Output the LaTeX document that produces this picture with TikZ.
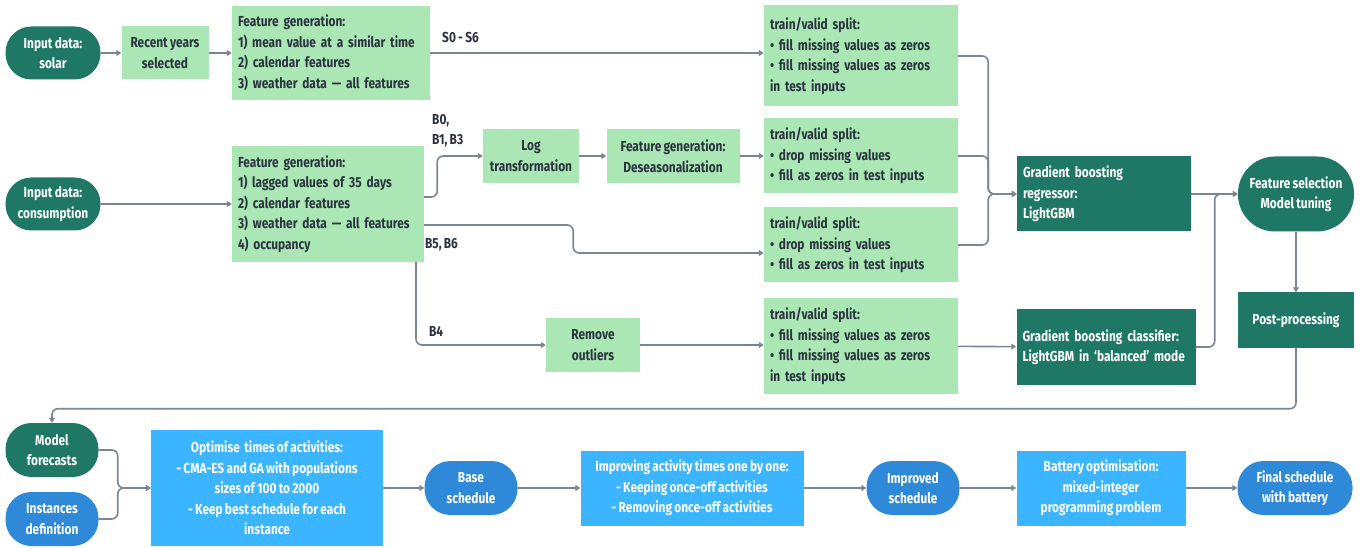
\documentclass[tikz,border=0pt]{standalone}
\usepackage{fontspec}
\setmainfont[FakeStretch=0.82,WordSpace=0.8]{Fira Sans}
\usetikzlibrary{arrows.meta,calc}
\definecolor{dgreen}{RGB}{31,120,101}
\definecolor{lgreen}{RGB}{170,231,180}
\definecolor{pblue}{RGB}{46,137,216}
\definecolor{lblue}{RGB}{59,181,255}
\definecolor{lgrey}{RGB}{124,134,146}
\definecolor{ink}{RGB}{43,51,64}
\tikzstyle{lgbox}=[rectangle,fill=lgreen,text=ink,inner xsep=6pt,inner ysep=2pt,align=left]
\tikzstyle{dgbox}=[rectangle,fill=dgreen,text=white,inner xsep=6pt,inner ysep=2pt,align=left]
\tikzstyle{dgpill}=[rectangle,rounded corners=26pt,fill=dgreen,text=white,align=center,
  minimum width=95pt,minimum height=53pt,inner sep=2pt]
\tikzstyle{bpill}=[rectangle,rounded corners=26pt,fill=pblue,text=white,align=center,
  minimum width=93pt,minimum height=54pt,inner sep=2pt]
\tikzstyle{lbbox}=[rectangle,fill=lblue,text=white,align=center,inner sep=2pt]
\tikzstyle{conn}=[draw=lgrey,line width=1.6pt,rounded corners=6pt,
  -{Triangle[length=5pt,width=6pt]}]
\tikzstyle{lbl}=[text=ink,inner sep=0pt,align=left]

\begin{document}
\begin{tikzpicture}[x=1pt,y=-1pt,font=\fontsize{14.5}{20.5}\selectfont\bfseries]
        \useasboundingbox (0,0) rectangle (1369,548);
        % forecasting part
        \node[dgpill] (solar) at (53,53) {Input data:\\solar};
        \node[lgbox,align=center,minimum width=87pt,minimum height=53pt] (recent) at (165,53) {Recent years\\selected};
        \node[lgbox,text width=186pt,minimum height=94pt] (fgsolar) at (331,53) {Feature generation:\\1) mean value at a similar time\\2) calendar features\\3) weather data --- all features};
        \node[lgbox,text width=182pt,minimum height=101pt] (tva) at (861,56) {train/valid split:\\\textbullet{} fill missing values as zeros\\\textbullet{} fill missing values as zeros\\in test inputs};
        \node[dgpill] (cons) at (53,204) {Input data:\\consumption};
        \node[lgbox,text width=180pt,minimum height=116pt] (fgcons) at (328,204) {Feature generation:\\1) lagged values of 35 days\\2) calendar features\\3) weather data --- all features\\4) occupancy};
        \node[lgbox,align=center,minimum width=96pt,minimum height=54pt] (logt) at (531,156) {Log\\transformation};
        \node[lgbox,align=center,minimum width=133pt,minimum height=54pt] (deseas) at (673,156) {Feature generation:\\Deseasonalization};
        \node[lgbox,text width=182pt,minimum height=75pt] (tvb) at (861,156) {train/valid split:\\\textbullet{} drop missing values\\\textbullet{} fill as zeros in test inputs};
        \node[lgbox,text width=182pt,minimum height=75pt] (tvc) at (861,245) {train/valid split:\\\textbullet{} drop missing values\\\textbullet{} fill as zeros in test inputs};
        \node[lgbox,align=center,minimum width=94pt,minimum height=54pt] (outl) at (593,345) {Remove\\outliers};
        \node[lgbox,text width=182pt,minimum height=95pt] (tvd) at (861,346) {train/valid split:\\\textbullet{} fill missing values as zeros\\\textbullet{} fill missing values as zeros\\in test inputs};
        \node[dgbox,text width=162pt,minimum height=75pt] (reg) at (1104,194) {Gradient boosting\\regressor:\\LightGBM};
        \node[dgbox,text width=167pt,minimum height=75pt] (clf) at (1106,347) {Gradient boosting classifier:\\LightGBM in `balanced' mode};
        \node[dgpill,rounded corners=37pt,minimum width=116pt,minimum height=75pt] (fsel) at (1296,194) {Feature selection\\Model tuning};
        \node[dgbox,align=center,minimum width=116pt,minimum height=55pt] (post) at (1296,320) {Post-processing};
        % labels
        \node[lbl,anchor=west] (ls) at (442,37) {S0 - S6};
        \node[lbl,anchor=north west] (lb) at (432,114) {B0,\\B1, B3};
        \node[lbl,anchor=west] (lbb) at (425,245) {B5, B6};
        \node[lbl,anchor=west] (lbc) at (429,331) {B4};
        % optimisation part
        \node[dgpill,minimum width=93pt,minimum height=54pt] (fcast) at (52,450) {Model\\forecasts};
        \node[bpill] (inst) at (52,519) {Instances\\definition};
        \node[lbbox,minimum width=232pt,minimum height=116pt] (optim) at (267,488) {Optimise~ times of activities:\\- CMA-ES and GA with populations\\sizes of 100 to 2000\\- Keep best schedule for each\\instance};
        \node[bpill] (base) at (471,488) {Base\\schedule};
        \node[lbbox,minimum width=223pt,minimum height=75pt] (impr) at (692,488) {Improving activity times one by one:\\- Keeping once-off activities\\- Removing once-off activities};
        \node[bpill] (improved) at (913,488) {Improved\\schedule};
        \node[lbbox,minimum width=169pt,minimum height=75pt] (batt) at (1101,488) {Battery optimisation:\\mixed-integer\\programming problem};
        \node[bpill,minimum width=115pt] (final) at (1295,488) {Final schedule\\with battery};
        % connectors
        \draw[conn] (solar) -- (recent);
        \draw[conn] (recent) -- (fgsolar);
        \draw[conn] (fgsolar.east) -- (fgsolar.east -| tva.west);
        \draw[conn] (cons) -- (fgcons);
        \draw[conn] ([yshift=7pt]fgcons.east) -- ++(13,0) |- (logt.west);
        \draw[conn] (logt) -- (deseas);
        \draw[conn] (deseas) -- (tvb);
        \draw[conn] ([yshift=-21pt]fgcons.east) -- ++(149,0) |- ([yshift=-8pt]tvc.west);
        \draw[conn] ([xshift=88pt]fgcons.south) |- (outl.west);
        \draw[conn] (outl.east) -- (outl.east -| tvd.west);
        \draw[conn] (tvd) -- (clf);
        \draw[conn] (tva.east) -- ++(30,0) |- (reg.west);
        \draw[conn] (tvb.east) -- ++(30,0) |- (reg.west);
        \draw[conn] (tvc.east) -- ++(30,0) |- (reg.west);
        \draw[conn] (reg) -- (fsel);
        \draw[conn] (clf.east) -- ++(19,0) |- (fsel.west);
        \draw[conn] (fsel) -- (post);
        \draw[conn] (post.south) -- ++(0,61) -| (fcast.north);
        \draw[conn] (fcast.east) -- ++(19,0) |- (optim.west);
        \draw[conn] (inst.east) -- ++(19,0) |- (optim.west);
        \draw[conn] (optim) -- (base);
        \draw[conn] (base) -- (impr);
        \draw[conn] (impr) -- (improved);
        \draw[conn] (improved) -- (batt);
        \draw[conn] (batt) -- (final);
    \end{tikzpicture}
\end{document}
